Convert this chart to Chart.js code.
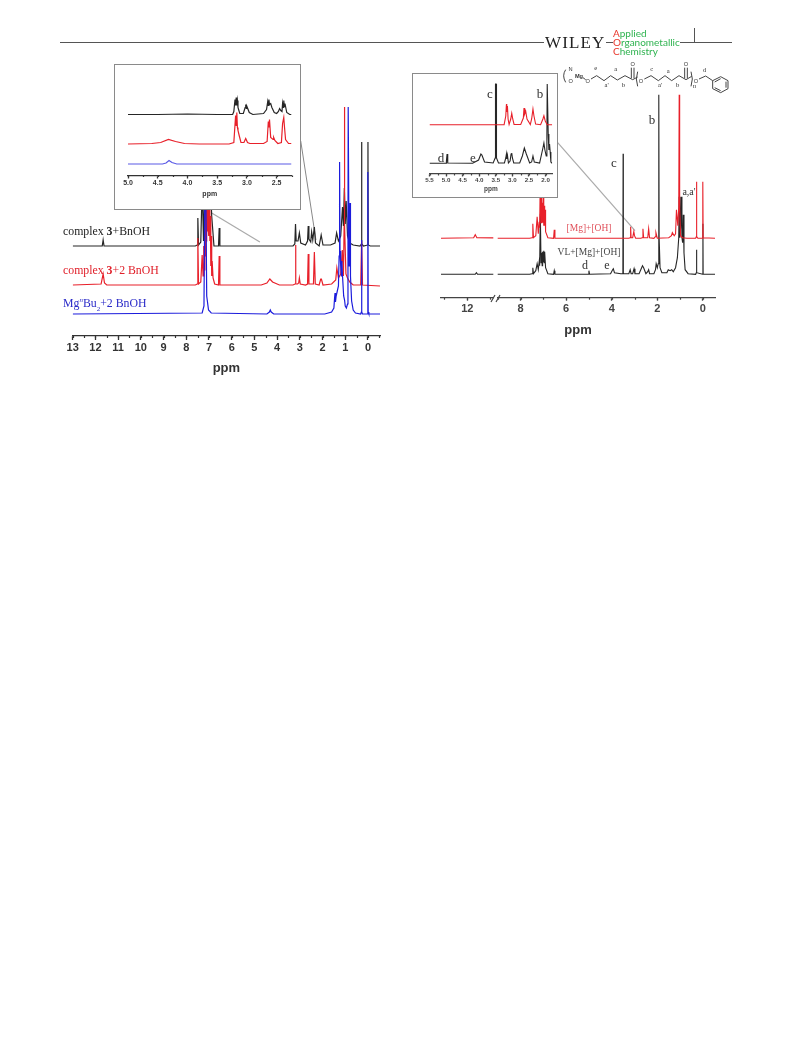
<!DOCTYPE html>
<html>
<head>
<meta charset="utf-8">
<title>1H NMR spectra</title>
<script src="https://cdn.jsdelivr.net/npm/chart.js@4/dist/chart.umd.min.js"></script>
<style>
  html, body { margin: 0; background: #fff; }
  #page { position: relative; width: 793px; height: 1043px; overflow: hidden; filter: blur(0.35px); }
  canvas { position: absolute; display: block; }
  .inset { position: absolute; box-sizing: border-box; background: #fff; border: 1.5px solid #8a8a8a; z-index: 5; }
  .lbl { position: absolute; white-space: nowrap; font-family: "Liberation Serif", serif; line-height: 1; transform: translateY(-50%); z-index: 6; }
  .mid { transform: translate(-50%, -50%); }
  .rule { position: absolute; height: 1px; background: #555; top: 42px; }
  .journal { position: absolute; left: 613px; top: 28.5px; font: 10px/9px Lato, sans-serif; color: #2fb350; }
  .journal b { font-weight: 400; color: #e8352a; }
</style>
</head>
<body>
<div id="page">
  <div class="rule" style="left:60px;width:484px"></div>
  <div class="rule" style="left:606px;width:7px"></div>
  <div class="rule" style="left:680px;width:52px"></div>
  <div style="position:absolute;left:694px;top:28px;width:1px;height:14px;background:#555"></div>
  <div class="lbl" style="left:545px;top:42px;font-size:17px;letter-spacing:1.1px;color:#222">WILEY</div>
  <div class="journal"><b>A</b>pplied<br><b>O</b>rganometallic<br><b>C</b>hemistry</div>

  <canvas id="mainLeft" width="340" height="325" style="left:60px;top:55px"></canvas>
  <div class="inset" style="left:114px;top:64px;width:187px;height:146px">
    <canvas id="insetLeft" width="180" height="140" style="left:0;top:0"></canvas>
  </div>
  <div class="lbl" style="left:63px;top:232px;font-size:11.8px;color:#222">complex <b>3</b>+BnOH</div>
  <div class="lbl" style="left:63px;top:271px;font-size:11.8px;color:#e0202a">complex <b>3</b>+2 BnOH</div>
  <div class="lbl" style="left:63px;top:305px;font-size:11.8px;color:#2a2ac8">Mg<sup style="font-size:7px;font-style:italic">n</sup>Bu<sub style="font-size:7px">2</sub>+2 BnOH</div>

  <canvas id="mainRightLow" width="70" height="130" style="left:430px;top:225px"></canvas>
  <canvas id="mainRight" width="240" height="250" style="left:485px;top:93px"></canvas>
  <div class="inset" style="left:412px;top:73px;width:146px;height:125px">
    <canvas id="insetRight" width="144" height="122" style="left:0;top:0"></canvas>
  </div>
  <svg style="position:absolute;left:490px;top:285px;z-index:4" width="20" height="20" viewBox="0 0 20 20">
    <path d="M1 17 L5 10 M6 17 L10 10" stroke="#444" stroke-width="1.2" fill="none"/>
  </svg>

  <div class="lbl mid" style="left:490px;top:93px;font-size:13px;color:#333">c</div>
  <div class="lbl mid" style="left:540px;top:93px;font-size:13px;color:#333">b</div>
  <div class="lbl mid" style="left:441px;top:157px;font-size:13px;color:#333">d</div>
  <div class="lbl mid" style="left:473px;top:157px;font-size:13px;color:#333">e</div>
  <div class="lbl mid" style="left:652px;top:119px;font-size:13px;color:#333">b</div>
  <div class="lbl mid" style="left:614px;top:162px;font-size:13px;color:#333">c</div>
  <div class="lbl mid" style="left:689px;top:192px;font-size:10px;color:#333">a,a'</div>
  <div class="lbl mid" style="left:589px;top:229px;font-size:9.5px;color:#e0505a">[Mg]+[OH]</div>
  <div class="lbl mid" style="left:589px;top:253px;font-size:9.5px;color:#444">VL+[Mg]+[OH]</div>
  <div class="lbl mid" style="left:585px;top:265px;font-size:12px;color:#333">d</div>
  <div class="lbl mid" style="left:607px;top:265px;font-size:12px;color:#333">e</div>
  <div class="lbl mid" style="left:578px;top:329px;font:bold 13px 'Liberation Sans',sans-serif;color:#333">ppm</div>

  <svg style="position:absolute;left:555px;top:55px;z-index:4" width="175" height="50" viewBox="0 0 525 150">
    <g fill="none" stroke="#444" stroke-width="3">
      <path d="M32 44 Q20 62 32 82"/>
      <path d="M84 68 L92 74 M108 72 L125 62 L147 77 L167 62 L187 75 L210 62 L233 74 L248 66"/>
      <path d="M229 70 L229 38 M237 70 L237 38"/>
      <path d="M248 50 Q240 72 248 94"/>
      <path d="M268 72 L288 62 L310 77 L330 62 L350 77 L372 62 L393 74 L410 64"/>
      <path d="M389 70 L389 38 M397 70 L397 38"/>
      <path d="M408 50 Q416 72 408 94"/>
      <path d="M432 72 L452 63 L473 77"/>
      <path d="M473 77 L497 65 L519 77 L519 101 L497 113 L473 101 Z"/>
      <path d="M479 81 L497 71 M513 80 L513 98 M479 98 L497 107"/>
    </g>
    <g font-family="Liberation Sans, sans-serif" font-size="17" fill="#333" text-anchor="middle">
      <text x="47" y="48">N</text><text x="72" y="68" font-weight="bold">Mg</text><text x="47" y="84">O</text>
      <text x="98" y="84">O</text><text x="233" y="34">O</text><text x="258" y="84">O</text>
      <text x="393" y="34">O</text><text x="423" y="84">O</text>
    </g>
    <g font-family="Liberation Serif, serif" font-size="20" fill="#333" text-anchor="middle">
      <text x="122" y="44">e</text><text x="182" y="48">a</text><text x="155" y="96">a'</text><text x="205" y="96">b</text>
      <text x="290" y="48">c</text><text x="340" y="53">a</text><text x="315" y="96">a'</text><text x="368" y="96">b</text>
      <text x="418" y="98" font-style="italic">n</text><text x="448" y="50">d</text>
    </g>
  </svg>
</div>

<script>
// left spectrum, full range
const leftBlackPpm = [
  13, 11.70, 11.66, 11.62,
  7.60, 7.52, 7.49, 7.46,
  7.36, 7.30, 7.24, 7.18, 7.12, 7.06, 7.00, 6.94, 6.88, 6.78,
  6.58, 6.55, 6.52,
  3.30, 3.22, 3.19, 3.16, 3.08, 3.02, 2.96,
  2.75, 2.66, 2.63, 2.60, 2.52, 2.48, 2.43, 2.36, 2.31,
  2.15, 2.06, 1.98,
  1.65, 1.45, 1.38, 1.30, 1.20, 1.12, 1.08, 1.04, 1.00, 0.96, 0.90, 0.80, 0.65,
  0.35, 0.29, 0.28, 0.27, 0.20, 0.01, 0, -0.01, -0.10, -0.53];
const leftBlack = [
  90, 90, 96, 90,
  90, 91, 118, 91,
  94, 150, 95, 160, 110, 158, 120, 155, 120, 90,
  90, 108, 90,
  90, 92, 112, 95, 95, 103, 93,
  91, 95, 110, 97, 94, 104, 96, 109, 93,
  90, 101, 91,
  91, 93, 103, 95, 100, 129, 110, 148, 112, 135, 100, 93, 91,
  90, 92, 194, 92, 90, 91, 194, 91, 90, 90];

const leftRedPpm = [
  13, 11.75, 11.66, 11.60, 11.50,
  7.60, 7.52, 7.49, 7.46,
  7.36, 7.30, 7.26,
  7.24, 7.22, 7.20, 7.18, 7.16, 7.14, 7.12, 7.10, 7.08, 7.06, 7.04, 7.02, 7.00, 6.98, 6.96, 6.94, 6.92, 6.90, 6.88, 6.86, 6.82, 6.75,
  6.58, 6.55, 6.52,
  4.70, 4.45, 4.32, 4.20, 3.90,
  3.30, 3.21, 3.19, 3.17, 3.10, 3.05, 3.02, 2.98,
  2.75, 2.66, 2.63, 2.60, 2.50, 2.40, 2.36, 2.32,
  2.15, 2.08, 2.05, 1.98,
  1.60, 1.42, 1.37, 1.30, 1.20, 1.13, 1.08, 1.05, 1.04, 1.03, 1.02, 0.97, 0.90, 0.80, 0.65,
  0.32, 0.28, 0.24, -0.53];
const leftRed = [
  51, 52, 62, 53, 51,
  51, 52, 98, 52,
  54, 81, 60,
  60, 90, 66, 120, 80, 140, 95, 160, 105, 160, 110, 160, 100, 150, 95, 120, 70, 100, 60, 75, 58, 52,
  51, 80, 51,
  51, 53, 57, 54, 51,
  51, 52, 91, 52, 52, 53, 58, 52,
  51, 52, 82, 52, 52, 52, 84, 52,
  51, 57, 57, 51,
  52, 56, 68, 58, 62, 86, 60, 110, 229, 229, 110, 62, 58, 54, 51,
  51, 95, 51, 50];

const leftBluePpm = [
  13, 7.30, 7.22, 7.18, 7.16, 7.14, 7.10, 7.02, 6.90,
  4.45, 4.34, 4.30, 4.26, 4.15,
  1.90, 1.60, 1.50, 1.47, 1.45, 1.43, 1.40, 1.35, 1.30, 1.27, 1.25, 1.23, 1.20, 1.17, 1.15, 1.12,
  1.07, 1.03, 1.00, 0.95, 0.90, 0.88, 0.87, 0.85, 0.83, 0.81, 0.79, 0.77, 0.72, 0.65, 0.55,
  0.32, 0.29, 0.28, 0.27, 0.24, 0.04, 0.01, 0, -0.01, -0.04, -0.53];
const leftBlue = [
  22, 23, 30, 150, 160, 150, 40, 26, 23,
  22, 24, 26, 24, 22,
  22, 24, 28, 38, 43, 34, 40, 45, 50, 80, 174, 85, 70, 60, 75, 60,
  40, 36, 30, 28, 32, 100, 229, 229, 70, 100, 133, 60, 35, 26, 23,
  22, 24, 96, 24, 22, 22, 24, 164, 24, 22, 22];

// grey callout lines from the left inset down to the spectrum
const leftCalloutAPpm = [6.88, 4.76];
const leftCalloutA = [123, 94];
const leftCalloutBPpm = [2.96, 2.29];
const leftCalloutB = [195, 96];

// left inset, 5.0 - 2.25 ppm
const insetLeftBlackPpm = [
  5, 4.5, 4, 3.5, 3.24, 3.22, 3.21, 3.20, 3.19, 3.18, 3.17, 3.16, 3.15, 3.14, 3.12, 3.06, 3.03, 3.02, 3.01, 3.0, 2.96, 2.90,
  2.72, 2.67, 2.65, 2.64, 2.63, 2.62, 2.60, 2.58, 2.54, 2.50, 2.47, 2.45, 2.43, 2.41, 2.40, 2.39, 2.38, 2.37, 2.36, 2.33, 2.28, 2.25];
const insetLeftBlack = [
  61, 61, 61.5, 61, 61, 64, 70, 76, 70, 78, 70, 75, 68, 66, 62, 62, 68, 71, 67, 69, 63, 61,
  62, 66, 74, 70, 76, 71, 72, 68, 63, 62, 64, 67, 65, 64, 72, 68, 75, 69, 72, 63, 61, 61];

const insetLeftRedPpm = [
  5, 4.6, 4.45, 4.32, 4.2, 4.05, 3.8, 3.3, 3.22, 3.19, 3.18, 3.17, 3.16, 3.15, 3.13, 3.10, 3.05, 3.02, 2.99, 2.95,
  2.72, 2.66, 2.64, 2.63, 2.62, 2.60, 2.56, 2.55, 2.53, 2.48, 2.42, 2.40, 2.38, 2.37, 2.35, 2.30, 2.25];
const insetRed = [
  31.5, 32, 33, 36, 34, 32, 31.5, 31.5, 33, 60, 50, 63, 48, 45, 40, 33, 33, 37, 33, 32,
  32, 34, 54, 48, 56, 38, 36, 38, 35, 32, 33, 52, 58, 50, 36, 32, 32];

const insetLeftBluePpm = [5, 4.42, 4.36, 4.31, 4.26, 4.18, 3.5, 3, 2.25];
const insetBlue = [11.5, 11.5, 12.5, 15, 13, 11.5, 11.5, 11.5, 11.5];

// right spectrum, two segments of one axis
const rightBlackPpm = [
  13.15, 11.65, 11.60, 11.55, 9,
  7.60, 7.49, 7.46, 7.43,
  7.33, 7.27, 7.22, 7.18, 7.16, 7.13, 7.10, 7.07, 7.05, 7.03, 7.00, 6.98, 6.96, 6.94, 6.90, 6.80,
  6.55, 6.52, 6.49,
  5.03, 5.00, 4.97,
  4.05, 3.96, 3.93, 3.88, 3.60, 3.51, 3.50, 3.49, 3.42,
  3.25, 3.19, 3.17, 3.15, 3.08, 3.02, 2.98, 2.80, 2.65, 2.60, 2.50, 2.42, 2.38, 2.34, 2.15,
  2.08, 2.05, 2.00, 1.96, 1.94, 1.93, 1.92, 1.88, 1.80, 1.58,
  1.52, 1.44, 1.37, 1.30, 1.20, 1.12, 1.06, 1.04, 1.01, 0.98, 0.95, 0.92, 0.89, 0.86, 0.83, 0.78, 0.65,
  0.32, 0.29, 0.28, 0.27, 0.01, 0, -0.01, -0.53];
const rightBlack = [
  23.4, 23.4, 25, 23.4, 23.4,
  23.4, 24, 30, 24,
  27, 34, 28, 36, 32, 84, 35, 45, 32, 46, 36, 47, 35, 46, 30, 24,
  23.4, 27, 23.4,
  23.4, 27, 23.4,
  24, 28, 29, 25, 24, 24, 144, 24, 24,
  24, 28, 28, 24, 24, 29, 24, 24, 32, 30, 24, 26, 28, 24, 24,
  28, 34, 30, 34, 60, 203, 60, 30, 25, 25,
  28, 27, 28, 26, 30, 40, 60, 101, 60, 70, 101, 60, 55, 83, 45, 28, 24,
  23.4, 25, 48, 25, 23.4, 74, 23.4, 23.4];

const rightRedPpm = [
  13.15, 11.72, 11.65, 11.58, 9,
  7.60, 7.49, 7.46, 7.43,
  7.33, 7.27, 7.22, 7.18, 7.16, 7.13, 7.10, 7.08, 7.06, 7.04, 7.02, 7.00, 6.98, 6.96, 6.94, 6.92, 6.90, 6.80,
  6.55, 6.52, 6.49,
  3.25, 3.19, 3.17, 3.15, 3.08, 3.03, 3.00, 2.95,
  2.72, 2.66, 2.63, 2.60, 2.50, 2.42, 2.38, 2.34, 2.15,
  2.09, 2.06, 2.00,
  1.50, 1.38, 1.34, 1.26, 1.20, 1.16, 1.10, 1.06, 1.04, 1.02, 0.98, 0.90, 0.70,
  0.32, 0.29, 0.28, 0.27, 0.22, 0.02, 0.01, 0, -0.01, -0.53];
const rightRed = [
  59.4, 60, 63, 60, 59.4,
  59.4, 60, 74, 60,
  62, 81, 64, 76, 70, 125, 75, 100, 78, 95, 75, 100, 72, 92, 72, 88, 66, 60,
  59.4, 68, 59.4,
  59.4, 60, 71, 60, 60, 66, 62, 59.4,
  59.4, 60, 69, 60, 60, 60, 69, 60, 59.4,
  61, 65, 59.4,
  60, 62, 65, 62, 64, 88, 72, 90, 203, 90, 62, 60, 59.4,
  59.4, 61, 116, 61, 59.4, 59.4, 60, 116, 60, 59.4];

const rightCalloutPpm = [6.37, 2.98];
const rightCallout = [155, 67];

// right inset, 5.5 - 1.8 ppm
const insetRightBlackPpm = [
  5.5, 5.0, 4.99, 4.97, 4.95, 4.2, 4.02, 3.95, 3.92, 3.84, 3.58, 3.52, 3.51, 3.49, 3.48, 3.42, 3.24, 3.20, 3.18, 3.17, 3.15, 3.12,
  3.07, 3.04, 3.02, 3.0, 2.96, 2.78, 2.70, 2.64, 2.58, 2.48, 2.42, 2.38, 2.34, 2.18, 2.08, 2.05, 2.02, 1.98, 1.96, 1.95, 1.93, 1.92, 1.90, 1.88, 1.86, 1.84, 1.80];
const insetRightBlack = [
  10.7, 10.7, 13, 20, 11, 10.7, 14, 20, 19, 12, 11, 16, 90, 90, 16, 11, 11, 16, 20, 15, 19, 11,
  13, 20, 21, 16, 11, 11, 18, 26, 20, 11, 12, 18, 12, 11, 26, 31, 24, 18, 40, 90, 90, 40, 24, 30, 22, 12, 10.7];

const insetRightRedPpm = [
  5.5, 4.5, 4, 3.5, 3.25, 3.20, 3.18, 3.17, 3.15, 3.13, 3.10, 3.05, 3.02, 2.99, 2.95,
  2.75, 2.67, 2.65, 2.63, 2.60, 2.56, 2.46, 2.42, 2.38, 2.35, 2.30, 2.15, 2.08, 2.05, 2.01, 1.95, 1.80];
const insetRightRed = [
  49.3, 49.3, 49.3, 49.3, 49.3, 58, 70, 62, 68, 55, 49.5, 55, 60.7, 55, 49.5,
  49.5, 56, 66, 60, 63, 55, 49.5, 55, 65, 58, 50, 49.3, 55, 58.3, 53, 49.3, 49.3];

const blackLine = '#262626';
const redLine = '#e8202a';
const blueLine = '#1c1cdc';
const greyLine = '#aaaaaa';

function points(xs, ys) {
  return xs.map((x, i) => ({ x, y: ys[i] }));
}

// shorter ticks between the labelled ones, placed through the chart's own scale
const minorTicks = {
  id: 'minorTicks',
  afterDraw(chart, args, opts) {
    const scale = chart.scales.x;
    const ctx = chart.ctx;
    ctx.save();
    ctx.strokeStyle = opts.color;
    ctx.lineWidth = 1.2;
    for (let v = Math.ceil(scale.min / opts.step) * opts.step; v <= scale.max; v += opts.step) {
      const px = Math.round(scale.getPixelForValue(v)) + 0.5;
      ctx.beginPath();
      ctx.moveTo(px, scale.top);
      ctx.lineTo(px, scale.top + opts.length);
      ctx.stroke();
    }
    ctx.restore();
  }
};

function spectrum(canvasId, cfg) {
  const series = cfg.series.map(s => ({
    data: s.data,
    borderColor: s.color,
    borderWidth: s.width || cfg.lineWidth,
    pointRadius: 0,
    tension: 0,
    order: s.order
  }));
  return new Chart(document.getElementById(canvasId), {
    type: 'line',
    data: { datasets: series },
    plugins: [minorTicks],
    options: {
      responsive: false,
      animation: false,
      events: [],
      layout: { padding: cfg.padding },
      plugins: {
        legend: { display: false },
        tooltip: { enabled: false },
        minorTicks: { step: cfg.minorStep, length: cfg.minorLength, color: cfg.axisColor }
      },
      scales: {
        x: {
          type: 'linear',
          reverse: true,
          min: cfg.xMin,
          max: cfg.xMax,
          afterFit: s => { s.height = cfg.axisHeight; },
          border: { color: cfg.axisColor, width: cfg.axisWidth || 1.3 },
          grid: { drawOnChartArea: false, tickLength: cfg.tickLength, tickColor: cfg.axisColor, tickWidth: 1.3 },
          ticks: {
            stepSize: cfg.step,
            includeBounds: false,
            autoSkip: false,
            maxRotation: 0,
            padding: cfg.tickPadding,
            color: cfg.axisColor,
            font: { family: 'Liberation Sans', weight: 'bold', size: cfg.tickSize },
            callback: cfg.tickFormat || (v => String(v))
          },
          title: cfg.titleSize ? {
            display: true,
            text: 'ppm',
            color: cfg.axisColor,
            padding: { top: 0, bottom: cfg.titleBottom },
            font: { family: 'Liberation Sans', weight: 'bold', size: cfg.titleSize }
          } : { display: false }
        },
        y: { display: false, min: 0, max: cfg.yMax }
      }
    }
  });
}

spectrum('mainLeft', {
  xMin: -0.53, xMax: 13, step: 1, minorStep: 0.5, minorLength: 2, tickLength: 4, tickPadding: 1, tickSize: 11,
  yMax: 281, axisHeight: 44, titleSize: 13, titleBottom: 3.5, lineWidth: 1.2, axisColor: '#333',
  padding: { left: 12.7, right: 20, top: 0, bottom: 0 },
  series: [
    { data: points(leftCalloutAPpm, leftCalloutA), color: greyLine, width: 1.2, order: 4 },
    { data: points(leftCalloutBPpm, leftCalloutB), color: '#888', width: 1, order: 4 },
    { data: points(leftBlackPpm, leftBlack), color: blackLine, order: 3 },
    { data: points(leftRedPpm, leftRed), color: redLine, order: 2 },
    { data: points(leftBluePpm, leftBlue), color: blueLine, order: 1 }
  ]
});

spectrum('insetLeft', {
  xMin: 2.25, xMax: 5, step: 0.5, minorStep: 0.25, minorLength: 1.5, tickLength: 3, tickPadding: 0, tickSize: 7,
  yMax: 110.5, axisHeight: 29.5, titleSize: 7, titleBottom: 7, lineWidth: 1.2, axisColor: '#333',
  tickFormat: v => v.toFixed(1),
  padding: { left: 13, right: 3.5, top: 0, bottom: 0 },
  series: [
    { data: points(insetLeftBlackPpm, insetLeftBlack), color: blackLine, order: 3 },
    { data: points(insetLeftRedPpm, insetRed), color: redLine, order: 2 },
    { data: points(insetLeftBluePpm, insetBlue), color: '#5a5ae6', order: 1 }
  ]
});

const rightSeries = [
  { data: points(rightBlackPpm, rightBlack), color: blackLine, order: 2 },
  { data: points(rightRedPpm, rightRed), color: redLine, order: 1 }
];

spectrum('mainRightLow', {
  xMin: 10.86, xMax: 13.15, step: 2, minorStep: 1, minorLength: 2, tickLength: 3, tickPadding: 2, tickSize: 11,
  yMax: 72.7, axisHeight: 57.3, lineWidth: 1.1, axisColor: '#444',
  padding: { left: 11, right: 6.7, top: 0, bottom: 0 },
  series: rightSeries
});

spectrum('mainRight', {
  xMin: -0.53, xMax: 9, step: 2, minorStep: 1, minorLength: 2, tickLength: 3, tickPadding: 2, tickSize: 11,
  yMax: 204.7, axisHeight: 45.3, lineWidth: 1.1, axisColor: '#444',
  padding: { left: 12.7, right: 10, top: 0, bottom: 0 },
  series: [
    { data: points(rightCalloutPpm, rightCallout), color: greyLine, width: 1.2, order: 3 },
    ...rightSeries
  ]
});

spectrum('insetRight', {
  xMin: 1.8, xMax: 5.5, step: 0.5, minorStep: 0.25, minorLength: 1.5, tickLength: 2.5, tickPadding: 0, tickSize: 6.2,
  yMax: 100, axisHeight: 22, titleSize: 6.5, titleBottom: 3, lineWidth: 1.1, axisColor: '#444',
  tickFormat: v => v.toFixed(1),
  padding: { left: 16.5, right: 4.8, top: 0, bottom: 0 },
  series: [
    { data: points(insetRightBlackPpm, insetRightBlack), color: blackLine, order: 2 },
    { data: points(insetRightRedPpm, insetRightRed), color: redLine, order: 1 }
  ]
});
</script>
</body>
</html>
